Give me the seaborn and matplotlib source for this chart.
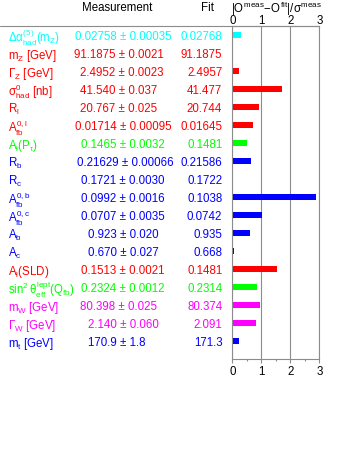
import numpy as np
import pandas as pd
import matplotlib
matplotlib.use("Agg")
import matplotlib.pyplot as plt
import seaborn as sns
from matplotlib.lines import Line2D
from matplotlib.transforms import blended_transform_factory

# ---------------- data ----------------
labels = [r'$\Delta\alpha^{(5)}_{had}(m_Z)$', r'$m_Z$ [GeV]', r'$\Gamma_Z$ [GeV]',
          r'$\sigma^0_{had}$ [nb]', r'$R_l$', r'$A^{0,l}_{fb}$', r'$A_l(P_\tau)$',
          r'$R_b$', r'$R_c$', r'$A^{0,b}_{fb}$', r'$A^{0,c}_{fb}$', r'$A_b$', r'$A_c$',
          r'$A_l$(SLD)', r'$\sin^2\theta^{lept}_{eff}(Q_{fb})$', r'$m_W$ [GeV]',
          r'$\Gamma_W$ [GeV]', r'$m_t$ [GeV]']
meas_values = ['0.02758', '91.1875', '2.4952', '41.540', '20.767', '0.01714', '0.1465',
               '0.21629', '0.1721', '0.0992', '0.0707', '0.923', '0.670', '0.1513',
               '0.2324', '80.398', '2.140', '170.9']
meas_errors = ['0.00035', '0.0021', '0.0023', '0.037', '0.025', '0.00095', '0.0032',
               '0.00066', '0.0030', '0.0016', '0.0035', '0.020', '0.027', '0.0021',
               '0.0012', '0.025', '0.060', '1.8']
fit_values = ['0.02768', '91.1875', '2.4957', '41.477', '20.744', '0.01645', '0.1481',
              '0.21586', '0.1722', '0.1038', '0.0742', '0.935', '0.668', '0.1481',
              '0.2314', '80.374', '2.091', '171.3']
pulls = [0.29, 0.02, 0.22, 1.70, 0.93, 0.73, 0.51, 0.66, 0.04, 2.90, 1.01, 0.60, 0.07,
         1.54, 0.84, 0.97, 0.82, 0.22]
row_colors = ['#00ffff', '#ff0000', '#ff0000', '#ff0000', '#ff0000', '#ff0000', '#00ff00',
              '#0000ff', '#0000ff', '#0000ff', '#0000ff', '#0000ff', '#0000ff', '#ff0000',
              '#00ff00', '#ff00ff', '#ff00ff', '#0000ff']
pull_ticks = [0, 1, 2, 3]

# ---------------- layout ----------------
W, H = 354, 458
meas_left_px = [75, 73.5, 80, 80, 80, 75, 81, 77.3, 81, 81, 81, 88.3, 88.3, 81, 81, 80, 88.3, 88.3]
GRAY = '#8c8c8c'
FS = 8.3

sns.set_theme(style='white')
plt.rcParams.update({
    'font.family': ['Liberation Sans', 'DejaVu Sans'],
    'mathtext.fontset': 'custom',
    'mathtext.rm': 'Liberation Sans',
    'mathtext.it': 'Liberation Sans',
    'mathtext.sf': 'Liberation Sans',
    'mathtext.bf': 'Liberation Sans:bold',
})

fig = plt.figure(figsize=(W / 100, H / 100), dpi=100)
ax_left, ax_right, ax_top, ax_bot = 232.3, 319.3, 26.0, 359.3
ax = fig.add_axes([ax_left / W, 1 - ax_bot / H, (ax_right - ax_left) / W, (ax_bot - ax_top) / H])

rows = [str(i) for i in range(len(pulls))]
df = pd.DataFrame({'row': rows, 'pull': pulls})
sns.barplot(data=df, x='pull', y='row', hue='row', palette=row_colors, legend=False,
            width=0.33, linewidth=0, saturation=1, ax=ax)

ax.set_xlim(0, 3)
ax.set_ylim(18, -0.5)
ax.set_xlabel('')
ax.set_ylabel('')
ax.set_yticks([])
ax.set_xticks(pull_ticks)
ax.set_xticks([0.5, 1.5, 2.5], minor=True)
ax.set_xticklabels([str(t) for t in pull_ticks])
ax.tick_params(axis='x', which='major', bottom=True, top=False, labelbottom=True,
               labeltop=False, direction='out', length=3, width=0.8, color=GRAY,
               labelsize=FS, pad=2, labelcolor='black')
ax.tick_params(axis='x', which='minor', bottom=True, top=False, direction='out',
               length=1.5, width=0.8, color=GRAY)
ax.set_axisbelow(True)
ax.xaxis.grid(True, which='major', color=GRAY, linewidth=0.8)
for s in ax.spines.values():
    s.set_color(GRAY)
    s.set_linewidth(0.8)
    s.set_visible(True)

# top tick labels
sec = ax.secondary_xaxis('top')
sec.set_xticks(pull_ticks)
sec.set_xticklabels([str(t) for t in pull_ticks])
sec.tick_params(axis='x', length=0, pad=-1, labelsize=FS, labelcolor='black')
sec.spines['top'].set_visible(False)

# header line spanning the whole table
fig.add_artist(Line2D([0, ax_right / W], [1 - ax_top / H] * 2, color=GRAY, lw=0.8,
                      transform=fig.transFigure))

# column headers
fig.text(117 / W, 1 - 8 / H, 'Measurement', ha='center', va='center', fontsize=FS, color='black')
fig.text(208 / W, 1 - 8 / H, 'Fit', ha='center', va='center', fontsize=FS, color='black')
fig.text(231 / W, 1 - 12.5 / H, r'$|O^{meas}{-}O^{fit}|/\sigma^{meas}$', ha='left', va='baseline',
         fontsize=FS, color='black')

trans = blended_transform_factory(fig.transFigure, ax.transData)
for i in range(len(labels)):
    c = row_colors[i]
    ax.text(8 / W, i, labels[i], transform=trans, ha='left', va='center_baseline',
            fontsize=FS, color=c, clip_on=False)
    ax.text(meas_left_px[i] / W, i, f'{meas_values[i]} \u00b1 {meas_errors[i]}', transform=trans,
            ha='left', va='center_baseline', fontsize=FS, color=c, clip_on=False)
    ax.text(222.3 / W, i, fit_values[i], transform=trans, ha='right', va='center_baseline',
            fontsize=FS, color=c, clip_on=False)

fig.savefig('out.png', dpi=100)
